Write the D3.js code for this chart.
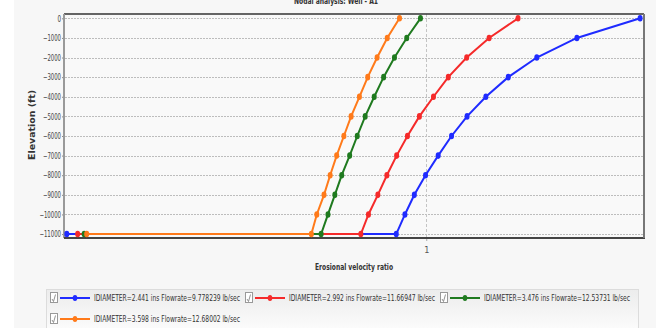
<!DOCTYPE html>
<html>
<head>
<meta charset="utf-8">
<script src="https://cdn.jsdelivr.net/npm/d3@7"></script>
<style>
  html, body { margin: 0; padding: 0; background: #ffffff; }
  svg { display: block; }
  text { font-family: "Liberation Sans Narrow", "DejaVu Sans Condensed", "Liberation Sans", sans-serif; }
</style>
</head>
<body>
<div id="chart"></div>
<script>
(function() {

    // Chart size
    var width = 664;
    var height = 328;

    // Elevation of each point (ft), top to bottom
    var elevations = [0, -1000, -2000, -3000, -4000, -5000, -6000, -7000, -8000, -9000, -10000, -11000];

    // Erosional velocity ratio per series, same order as elevations
    var blueRatio   = [1.592, 1.417, 1.306, 1.227, 1.165, 1.113, 1.070, 1.033, 0.998, 0.967, 0.941, 0.917];
    var redRatio    = [1.254, 1.174, 1.112, 1.061, 1.020, 0.981, 0.948, 0.918, 0.891, 0.866, 0.840, 0.819];
    var greenRatio  = [0.984, 0.946, 0.912, 0.882, 0.856, 0.831, 0.809, 0.788, 0.766, 0.747, 0.728, 0.709];
    var orangeRatio = [0.926, 0.892, 0.864, 0.838, 0.815, 0.792, 0.772, 0.752, 0.734, 0.717, 0.697, 0.682];

    // Extra point at bottom of well (left end of flat segment)
    var bottomElevation = -11000;
    var bottomRatio = [0.005, 0.035, 0.053, 0.060];

    var seriesNames = [
        "IDIAMETER=2.441 ins Flowrate=9.778239 lb/sec",
        "IDIAMETER=2.992 ins Flowrate=11.66947 lb/sec",
        "IDIAMETER=3.476 ins Flowrate=12.53731 lb/sec",
        "IDIAMETER=3.598 ins Flowrate=12.68002 lb/sec"
    ];
    var seriesColors = ["#1f2bff", "#f52a2a", "#1f7a1f", "#ff7a1a"];
    var seriesRatios = [blueRatio, redRatio, greenRatio, orangeRatio];

    // Axis ticks
    var yTicks = elevations;
    var xTicks = [1];

    var title = "Nodal analysis: Well - A1";
    var xTitle = "Erosional velocity ratio";
    var yTitle = "Elevation (ft)";

    // Plot area
    var plot = { left: 65, right: 643, top: 14, bottom: 237 };

    var svg = d3.select("#chart")
        .append("svg")
        .attr("width", width)
        .attr("height", height);

    // grey panel behind everything
    svg.append("rect")
        .attr("x", 14).attr("y", 0)
        .attr("width", 642).attr("height", height)
        .attr("fill", "#f7f7f7");

    var x = d3.scaleLinear().domain([0, 1.6]).range([plot.left, plot.right]);
    var y = d3.scaleLinear().domain([-11150, 220]).range([plot.bottom, plot.top]);

    // title (cut off at top, as in the original screenshot)
    svg.append("text")
        .attr("x", 336).attr("y", 3.5)
        .attr("text-anchor", "middle")
        .attr("font-size", 9).attr("font-weight", "bold")
        .attr("fill", "#333")
        .attr("textLength", 84).attr("lengthAdjust", "spacingAndGlyphs")
        .text(title);

    // plot background
    svg.append("rect")
        .attr("x", plot.left).attr("y", plot.top)
        .attr("width", plot.right - plot.left).attr("height", plot.bottom - plot.top)
        .attr("fill", "#f9f9f9");

    // horizontal grid lines
    svg.append("g")
        .selectAll("line")
        .data(yTicks)
        .enter().append("line")
        .attr("x1", plot.left).attr("x2", plot.right)
        .attr("y1", d => Math.round(y(d)) + 0.5)
        .attr("y2", d => Math.round(y(d)) + 0.5)
        .attr("stroke", "#bdbdbd")
        .attr("stroke-dasharray", "2,1");

    // vertical grid line
    svg.append("g")
        .selectAll("line")
        .data(xTicks)
        .enter().append("line")
        .attr("x1", d => Math.round(x(d)) + 0.5).attr("x2", d => Math.round(x(d)) + 0.5)
        .attr("y1", plot.top).attr("y2", plot.bottom)
        .attr("stroke", "#c4c4c4")
        .attr("stroke-dasharray", "3,2");

    // y axis
    var yAxis = d3.axisLeft(y).tickValues(yTicks).tickSize(3).tickPadding(1).tickFormat(d3.format("d"));
    var gy = svg.append("g")
        .attr("transform", "translate(" + plot.left + ",0)")
        .call(yAxis);
    gy.select(".domain").remove();
    gy.selectAll(".tick line").attr("stroke", "#888");
    gy.selectAll(".tick text")
        .attr("font-size", 8.5)
        .attr("fill", "#444")
        .attr("font-family", null)
        .attr("textLength", function() { return this.textContent.length * 3.6; })
        .attr("lengthAdjust", "spacingAndGlyphs");

    // x axis
    var xAxis = d3.axisBottom(x).tickValues(xTicks).tickSize(4).tickPadding(6).tickFormat(d3.format("d"));
    var gx = svg.append("g")
        .attr("transform", "translate(0," + plot.bottom + ")")
        .call(xAxis);
    gx.select(".domain").remove();
    gx.selectAll(".tick line").attr("stroke", "#aaa");
    gx.selectAll(".tick text")
        .attr("font-size", 9)
        .attr("fill", "#555")
        .attr("font-family", null);

    // frame
    svg.append("line")
        .attr("x1", plot.left - 1).attr("x2", plot.right + 1)
        .attr("y1", plot.top).attr("y2", plot.top)
        .attr("stroke", "#333").attr("stroke-width", 1.5);
    svg.append("line")
        .attr("x1", plot.left - 1).attr("x2", plot.left - 1)
        .attr("y1", plot.top).attr("y2", plot.bottom + 1)
        .attr("stroke", "#9a9a9a").attr("stroke-width", 2);
    svg.append("line")
        .attr("x1", plot.left - 1).attr("x2", plot.right + 2)
        .attr("y1", plot.bottom + 1).attr("y2", plot.bottom + 1)
        .attr("stroke", "#444").attr("stroke-width", 2);
    svg.append("line")
        .attr("x1", plot.right + 1).attr("x2", plot.right + 1)
        .attr("y1", plot.top).attr("y2", plot.bottom + 1)
        .attr("stroke", "#777").attr("stroke-width", 2);

    // axis titles
    svg.append("text")
        .attr("transform", "translate(35,125) rotate(-90)")
        .attr("text-anchor", "middle")
        .attr("font-size", 8.5).attr("font-weight", "bold")
        .attr("fill", "#333")
        .attr("textLength", 70).attr("lengthAdjust", "spacingAndGlyphs")
        .text(yTitle);

    svg.append("text")
        .attr("x", 354).attr("y", 270)
        .attr("text-anchor", "middle")
        .attr("font-size", 8.5).attr("font-weight", "bold")
        .attr("fill", "#333")
        .attr("textLength", 78).attr("lengthAdjust", "spacingAndGlyphs")
        .text(xTitle);

    // series
    var line = d3.line()
        .x(d => x(d.ratio))
        .y(d => y(d.elev));

    seriesRatios.forEach(function(ratios, i) {
        var pts = [{ ratio: bottomRatio[i], elev: bottomElevation }];
        for (var k = ratios.length - 1; k >= 0; k--) {
            pts.push({ ratio: ratios[k], elev: elevations[k] });
        }
        var g = svg.append("g");
        g.append("path")
            .datum(pts)
            .attr("d", line)
            .attr("fill", "none")
            .attr("stroke", seriesColors[i])
            .attr("stroke-width", 2);
        g.selectAll("ellipse")
            .data(pts)
            .enter().append("ellipse")
            .attr("cx", d => x(d.ratio))
            .attr("cy", d => y(d.elev))
            .attr("rx", 2.5).attr("ry", 3.3)
            .attr("fill", seriesColors[i]);
    });

    // legend box
    var legendBox = { x: 46, y: 289, w: 592, h: 39 };
    var grad = svg.append("defs").append("linearGradient")
        .attr("id", "legendGrad")
        .attr("x1", 0).attr("y1", 0).attr("x2", 0).attr("y2", 1);
    grad.append("stop").attr("offset", "0%").attr("stop-color", "#ececec");
    grad.append("stop").attr("offset", "100%").attr("stop-color", "#fbfbfb");

    svg.append("rect")
        .attr("x", legendBox.x + 0.5).attr("y", legendBox.y + 0.5)
        .attr("width", legendBox.w).attr("height", legendBox.h)
        .attr("fill", "url(#legendGrad)")
        .attr("stroke", "#dcdcdc");

    var itemTextWidth = 146;
    var itemWidth = 195;
    var cx0 = 50, cy0 = 298, rowH = 21;
    var cursor = cx0, row = 0;

    seriesNames.forEach(function(name, i) {
        if (cursor + itemWidth > legendBox.x + legendBox.w) {
            cursor = cx0;
            row += 1;
        }
        var cy = cy0 + row * rowH;
        var g = svg.append("g").attr("transform", "translate(" + cursor + "," + cy + ")");
        // checkbox with tick
        g.append("rect")
            .attr("x", 0.5).attr("y", -5.5)
            .attr("width", 7).attr("height", 10)
            .attr("fill", "#fff").attr("stroke", "#999");
        g.append("path")
            .attr("d", "M2,1 L3.5,3.5 L5.5,-3.5")
            .attr("fill", "none")
            .attr("stroke", "#777").attr("stroke-width", 0.8);
        g.append("line")
            .attr("x1", 10).attr("x2", 40)
            .attr("y1", 0).attr("y2", 0)
            .attr("stroke", seriesColors[i]).attr("stroke-width", 2);
        g.append("ellipse")
            .attr("cx", 25).attr("cy", 0)
            .attr("rx", 2.3).attr("ry", 3)
            .attr("fill", seriesColors[i]);
        g.append("text")
            .attr("x", 44).attr("y", 3)
            .attr("font-size", 8.5).attr("fill", "#333")
            .attr("textLength", itemTextWidth).attr("lengthAdjust", "spacingAndGlyphs")
            .text(name);
        cursor += itemWidth;
    });

})();
</script>
</body>
</html>
